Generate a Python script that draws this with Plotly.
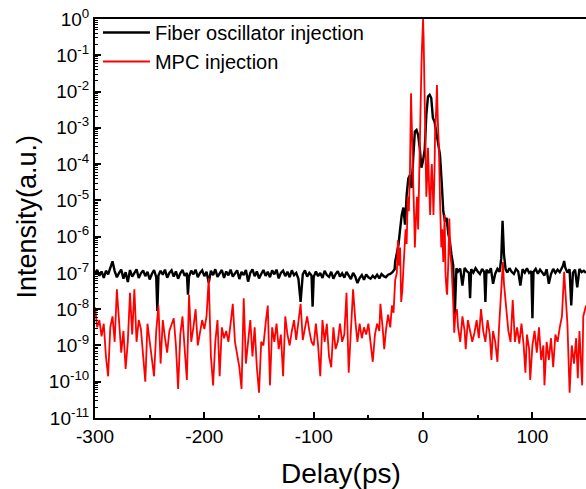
import plotly.graph_objects as go

# ---------------- data (delay in ps, intensity as log10) ----------------
black_delay = [
    -300, -298, -296, -294, -292, -290, -288, -286, -284, -282,
    -280, -278, -276, -274, -272, -270, -268, -266, -264, -262,
    -260, -258, -256, -254, -252, -250, -248, -246, -244, -243,
    -242, -240, -238, -236, -234, -232, -230, -228, -226, -224,
    -222, -220, -218, -216, -215, -214, -212, -210, -208, -206,
    -204, -202, -200, -198, -196, -194, -192, -190, -188, -186,
    -184, -182, -180, -178, -176, -174, -172, -170, -168, -166,
    -164, -162, -160, -158, -156, -154, -152, -150, -148, -146,
    -144, -142, -140, -138, -136, -134, -132, -130, -128, -126,
    -124, -122, -120, -118, -116, -114, -112, -110, -108, -106,
    -104, -102, -101, -100, -98, -96, -94, -92, -90, -88,
    -86, -84, -82, -80, -78, -76, -74, -72, -70, -68,
    -66, -64, -62, -60, -58, -56, -54, -52, -50, -48,
    -46, -44, -42, -40, -38, -36, -34, -32, -30, -28,
    -26, -25.5, -24, -22.5, -21, -19.5, -18, -16.5, -15, -13.5,
    -12, -10.5, -9, -7.5, -6, -4.5, -3, -1.5, 0, 1.5,
    3, 4.5, 6, 7.5, 9, 10.5, 12, 13.5, 15.5, 17,
    18.5, 20, 21.5, 23, 24.5, 26, 27.5, 29, 30.5, 32,
    34, 36, 38, 40, 42, 43, 44, 46, 48, 50,
    52, 54, 56, 57, 58, 60, 62, 64, 66, 68,
    70, 71.5, 72.7, 74, 75.5, 77, 79, 81, 83, 85,
    87, 89, 91, 93, 95, 97, 99, 100, 101, 103,
    105, 107, 109, 111, 113, 115, 117, 119, 121, 123,
    125, 127, 128, 129, 130, 132, 134, 135.5, 137, 139,
    141, 143, 145, 147, 149,
]
black_log = [
    -7.00, -6.92, -7.08, -6.96, -7.14, -6.94, -7.04, -6.88, -6.68, -6.95,
    -7.12, -7.00, -6.91, -7.16, -6.98, -7.25, -6.92, -7.10, -7.00, -6.90,
    -7.14, -7.01, -6.93, -7.09, -6.97, -7.18, -7.03, -6.92, -7.12, -8.05,
    -7.07, -6.94, -7.05, -6.91, -7.13, -7.00, -6.93, -7.10, -6.96, -7.16,
    -7.01, -6.92, -7.08, -7.00, -7.60, -7.10, -6.94, -7.04, -6.91, -7.12,
    -7.00, -6.93, -7.09, -6.97, -7.27, -6.94, -7.06, -6.90, -7.11, -7.00,
    -6.92, -7.14, -6.96, -7.07, -6.91, -7.10, -7.02, -6.93, -7.17, -6.97,
    -7.06, -6.92, -7.24, -7.00, -6.90, -7.09, -6.96, -7.15, -7.03, -6.92,
    -7.08, -6.97, -7.12, -6.93, -7.04, -6.91, -7.15, -7.00, -6.94, -7.09,
    -6.97, -7.12, -6.93, -7.06, -7.00, -7.16, -7.80, -7.04, -6.93, -7.10,
    -7.00, -7.07, -7.93, -7.11, -6.96, -7.09, -7.00, -7.14, -6.94, -7.06,
    -7.11, -6.97, -7.16, -7.03, -6.95, -7.10, -7.01, -7.13, -6.97, -7.07,
    -7.17, -7.00, -7.10, -7.28, -7.14, -7.06, -7.19, -7.04, -7.12, -7.16,
    -7.08, -7.14, -7.05, -7.15, -7.03, -7.09, -7.12, -7.05, -7.03, -6.98,
    -6.90, -6.69, -6.45, -6.23, -5.80, -5.40, -5.20, -5.67, -4.85, -4.40,
    -4.30, -4.66, -3.83, -3.10, -3.06, -3.20, -3.56, -4.10, -3.90, -3.60,
    -2.64, -2.14, -2.09, -2.18, -2.73, -2.83, -3.10, -3.40, -3.75, -4.48,
    -5.30, -5.58, -5.48, -5.90, -6.13, -6.50, -6.78, -8.15, -6.87, -6.96,
    -6.88, -7.35, -6.86, -6.95, -7.00, -7.70, -6.90, -6.99, -6.87, -6.96,
    -7.03, -6.89, -6.98, -7.80, -6.91, -7.00, -6.87, -7.30, -7.02, -6.89,
    -6.97, -6.60, -5.56, -6.50, -6.90, -6.99, -6.87, -6.97, -7.03, -6.89,
    -6.96, -7.35, -6.90, -6.99, -6.87, -7.00, -6.95, -8.25, -6.97, -6.89,
    -7.02, -6.91, -6.99, -7.07, -6.90, -7.30, -7.03, -6.89, -7.00, -6.91,
    -6.98, -6.88, -6.80, -6.67, -6.85, -6.99, -6.90, -7.90, -7.00, -6.91,
    -7.40, -6.89, -6.98, -6.94, -7.00,
]

red_delay = [
    -300, -298, -296, -294, -292, -290, -288, -286, -284, -282,
    -280, -278, -276, -274, -272, -270, -268, -266, -264, -262,
    -260, -258, -256, -254, -252, -250, -248, -246, -244, -242,
    -240, -238, -236, -234, -232, -230, -228, -226, -224, -222,
    -220, -218, -216, -214, -212, -210, -208, -206, -204, -202,
    -200, -198, -196, -194, -192, -190, -188, -186, -184, -182,
    -180, -178, -176, -174, -172, -170, -168, -166, -164, -162,
    -160, -158, -156, -154, -152, -150, -148, -146, -144, -142,
    -140, -138, -136, -134, -132, -130, -128, -126, -124, -122,
    -120, -118, -116, -114, -112, -110, -108, -106, -104, -102,
    -100, -98, -96, -94, -92, -90, -88, -86, -84, -82,
    -80, -78, -76, -74, -72, -70, -68, -66, -64, -62,
    -60, -58, -56, -54, -52, -50, -48, -46, -44, -42,
    -40, -39, -37, -35.5, -34, -32, -30, -28.5, -27, -25.5,
    -24, -23, -22, -21, -20, -19, -18, -17, -16, -15,
    -14, -13, -12, -11, -10, -9, -8, -7.5, -6.5, -5.5,
    -4.5, -3.5, -2.5, -1.5, -1, -0.5, 0, 0.5, 1, 1.8,
    2.5, 3, 4, 4.5, 5.5, 6.5, 7.5, 8, 9, 9.5,
    10.5, 11, 12, 12.7, 13.5, 14.5, 15.5, 16.7, 17.5, 18.5,
    19.7, 20.5, 21.5, 22, 23, 24, 25, 26, 27.5, 28.5,
    29.5, 31, 32, 34, 36, 38, 39, 41, 43, 45,
    47, 49, 51, 53, 55, 57, 59, 61, 62.5, 64,
    66, 68, 69.5, 70.5, 72, 73, 74, 76, 78, 80,
    82, 84, 86, 88, 90, 92, 93.6, 95, 97, 98,
    100, 102, 104, 106, 108, 110, 111, 113, 115, 117,
    119, 121, 123, 125, 127, 129, 130.5, 132, 134, 136,
    138, 140, 141.5, 143, 145.5, 146.5, 149,
]
red_log = [
    -7.95, -8.50, -8.30, -8.75, -8.40, -9.30, -9.85, -8.50, -8.20, -8.90,
    -7.45, -8.30, -9.20, -8.60, -9.65, -8.90, -7.55, -8.70, -7.45, -8.90,
    -8.30, -8.55, -9.40, -10.00, -8.40, -8.90, -9.30, -9.85, -8.60, -7.90,
    -9.50, -8.30, -8.80, -9.20, -8.60, -8.40, -8.25, -9.00, -10.20, -8.70,
    -8.20, -9.10, -9.95, -7.60, -8.90, -8.50, -8.00, -9.00, -8.60, -8.30,
    -8.55, -8.20, -7.15, -9.30, -10.10, -8.90, -8.30, -9.85, -8.50, -8.80,
    -8.60, -8.90, -8.40, -7.85, -8.90, -9.30, -9.60, -10.20, -7.70, -9.50,
    -8.90, -8.30, -9.30, -8.50, -9.60, -10.30, -8.90, -9.00, -8.40, -7.90,
    -10.10, -8.50, -8.90, -8.40, -9.10, -8.70, -9.85, -8.20, -8.70, -9.00,
    -8.60, -8.30, -8.85, -8.40, -7.85, -8.85, -8.50, -8.20, -8.60, -8.90,
    -9.00, -8.40, -9.00, -9.85, -8.30, -8.90, -8.40, -9.30, -9.60, -8.50,
    -9.10, -8.90, -8.40, -8.90, -8.70, -7.55, -9.75, -8.60, -7.45, -8.30,
    -8.90, -8.40, -8.80, -8.50, -8.70, -8.40, -9.00, -9.45, -8.70, -8.40,
    -8.60, -7.85, -8.50, -9.10, -8.60, -8.15, -8.50, -7.90, -8.10, -7.20,
    -7.00, -6.10, -6.80, -6.30, -7.80, -7.50, -6.90, -6.30, -5.80, -6.20,
    -4.90, -5.30, -4.20, -2.05, -3.80, -4.50, -5.60, -6.30, -5.50, -4.90,
    -5.80, -4.00, -2.20, -1.30, -0.80, -0.30, 0.00, -0.50, -1.60, -3.10,
    -4.00, -4.90, -4.20, -3.55, -4.60, -5.40, -4.30, -4.00, -4.80, -5.40,
    -4.20, -3.10, -2.50, -1.82, -2.80, -3.55, -5.00, -6.30, -5.80, -6.70,
    -5.40, -7.00, -7.50, -7.60, -6.80, -5.50, -6.50, -6.80, -7.75, -8.65,
    -8.15, -8.00, -8.50, -8.90, -8.20, -8.60, -9.10, -8.30, -8.60, -8.90,
    -8.65, -8.30, -8.80, -8.00, -8.60, -8.90, -8.30, -8.70, -9.40, -8.60,
    -8.90, -9.45, -8.50, -7.90, -6.90, -6.70, -7.30, -8.00, -8.60, -8.90,
    -7.75, -8.90, -8.50, -8.95, -8.40, -9.00, -9.75, -8.70, -9.10, -9.95,
    -9.00, -8.60, -9.20, -8.50, -9.40, -9.00, -10.10, -8.90, -9.40, -8.80,
    -9.60, -8.70, -8.90, -8.50, -8.20, -6.97, -7.60, -8.40, -10.30, -9.00,
    -9.50, -8.80, -9.90, -8.60, -10.10, -8.20, -7.90,
]

assert len(black_delay) == len(black_log)
assert len(red_delay) == len(red_log)

series_names = ["Fiber oscillator injection", "MPC injection"]
x_ticks = [-300, -200, -100, 0, 100]
y_exponents = [0, -1, -2, -3, -4, -5, -6, -7, -8, -9, -10, -11]

# ---------------- figure ----------------
FONT = "Liberation Sans, Arial, sans-serif"

fig = go.Figure()
fig.add_trace(go.Scatter(
    x=black_delay, y=[10 ** v for v in black_log], mode="lines",
    name=series_names[0], line=dict(color="black", width=2.4),
))
fig.add_trace(go.Scatter(
    x=red_delay, y=[10 ** v for v in red_log], mode="lines",
    name=series_names[1], line=dict(color="#ff0000", width=1.8),
))

y_tickvals = [10.0 ** e for e in y_exponents]
y_ticktext = ["10<sup>%d</sup>" % e for e in y_exponents]
y_minor = [m * 10.0 ** e for e in range(-11, 0) for m in range(2, 10)]

fig.update_layout(
    width=586, height=489,
    margin=dict(l=95, r=0, t=19, b=71),
    paper_bgcolor="white", plot_bgcolor="white",
    font=dict(family=FONT, color="black", size=19),
    showlegend=True,
    legend=dict(
        x=0.006, y=1.015, xanchor="left", yanchor="top",
        bgcolor="rgba(0,0,0,0)", borderwidth=0,
        font=dict(family=FONT, size=20, color="black"),
        tracegroupgap=0, itemwidth=47,
    ),
    xaxis=dict(
        range=[-300, 149], showgrid=False, zeroline=False,
        showline=True, linecolor="black", linewidth=2, mirror=True,
        ticks="inside", ticklen=6, tickwidth=2, tickcolor="black",
        tickvals=x_ticks, ticktext=[str(v) for v in x_ticks],
        tickfont=dict(family=FONT, size=19),
        minor=dict(ticks="inside", ticklen=3, tickwidth=2, tickcolor="black", dtick=50),
    ),
    yaxis=dict(
        type="log", range=[-11, 0], showgrid=False, zeroline=False,
        showline=True, linecolor="black", linewidth=2, mirror=False,
        ticks="inside", ticklen=6, tickwidth=2, tickcolor="black",
        tickvals=y_tickvals, ticktext=y_ticktext,
        tickfont=dict(family=FONT, size=19),
        minor=dict(ticks="inside", ticklen=3, tickwidth=1, tickcolor="black", tickvals=y_minor),
    ),
    annotations=[
        dict(text="Delay(ps)", xref="paper", yref="paper", x=0.5, y=-0.14,
             xanchor="center", yanchor="middle", showarrow=False,
             font=dict(family=FONT, size=28, color="black")),
        dict(text="Intensity(a.u.)", xref="paper", yref="paper", x=-0.1405, y=0.505,
             xanchor="center", yanchor="middle", showarrow=False, textangle=-90,
             font=dict(family=FONT, size=27, color="black")),
    ],
)

fig.write_html(
    "out.html",
    config={"displayModeBar": False},
    post_script="document.body.style.margin='0';document.body.style.overflow='hidden';",
)
